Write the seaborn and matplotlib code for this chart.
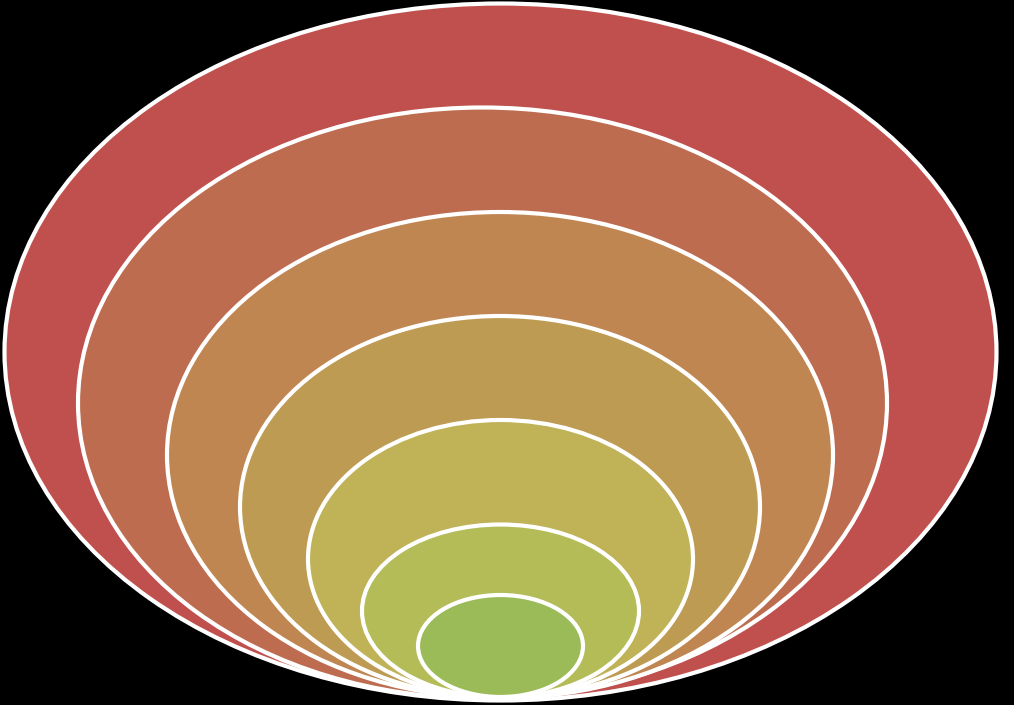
import matplotlib
matplotlib.use("Agg")
import matplotlib.pyplot as plt
from matplotlib.patches import Ellipse
import seaborn as sns

# Nested ellipses (outer -> inner), in pixel-like data units
levels = ["L1", "L2", "L3", "L4", "L5", "L6", "L7"]
center_x = [500.5, 482.5, 500.0, 500.0, 500.5, 500.5, 500.5]
center_y = [352.0, 403.0, 455.0, 507.0, 559.0, 611.0, 646.0]
widths = [992, 809, 666, 520, 385, 277, 165]
heights = [697, 591, 486, 382, 278, 173, 102]
colors = ["#C0504D", "#BE6C50", "#BF8652", "#BE9B53", "#BFB257", "#B3BC57", "#9BBB59"]

sns.set_theme(style="white")
fig = plt.figure(figsize=(10.14, 7.05), dpi=100, facecolor="black")
ax = fig.add_axes([0, 0, 1, 1])
ax.set_facecolor("black")
ax.set_xlim(0, 1014)
ax.set_ylim(705, 0)
ax.axis("off")

for cx, cy, w, h, c in zip(center_x, center_y, widths, heights, colors):
    ax.add_patch(Ellipse((cx, cy), w, h, facecolor=c, edgecolor="white", linewidth=3.0))

fig.savefig("out.png", dpi=100, facecolor="black")
